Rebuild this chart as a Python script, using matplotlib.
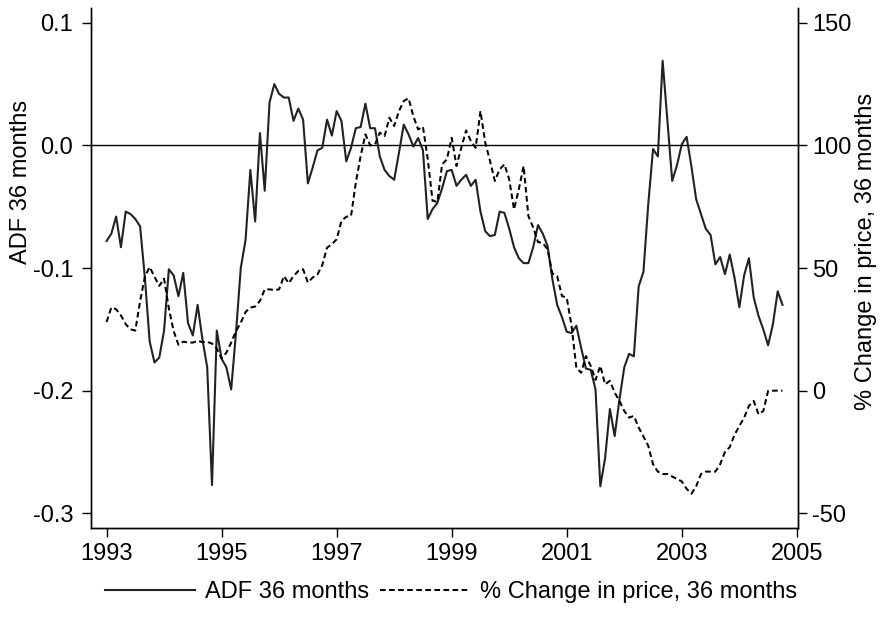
import numpy as np
import matplotlib
matplotlib.use("Agg")
import matplotlib.pyplot as plt

plt.rcParams['font.family'] = ['Liberation Sans', 'DejaVu Sans']

# monthly observations, 1993m1 - 2004m10
start_year = 1993
adf = [
    -0.078, -0.072, -0.058, -0.083, -0.054, -0.056, -0.060, -0.066, -0.108, -0.160,
    -0.177, -0.173, -0.151, -0.101, -0.106, -0.123, -0.104, -0.145, -0.155, -0.130,
    -0.158, -0.181, -0.277, -0.151, -0.174, -0.181, -0.199, -0.153, -0.100, -0.077,
    -0.020, -0.062, 0.010, -0.037, 0.035, 0.050, 0.042, 0.039, 0.039, 0.020,
    0.030, 0.021, -0.031, -0.018, -0.004, -0.002, 0.021, 0.008, 0.028, 0.020,
    -0.013, -0.002, 0.014, 0.015, 0.034, 0.014, 0.014, -0.009, -0.020, -0.025,
    -0.028, -0.006, 0.017, 0.009, -0.001, 0.006, -0.004, -0.060, -0.052, -0.047,
    -0.035, -0.021, -0.020, -0.033, -0.028, -0.024, -0.033, -0.028, -0.054, -0.070,
    -0.074, -0.073, -0.054, -0.055, -0.068, -0.083, -0.092, -0.096, -0.096, -0.083,
    -0.065, -0.072, -0.082, -0.109, -0.130, -0.140, -0.152, -0.153, -0.147, -0.165,
    -0.182, -0.183, -0.199, -0.278, -0.255, -0.215, -0.237, -0.207, -0.181, -0.170,
    -0.172, -0.115, -0.103, -0.048, -0.003, -0.009, 0.069, 0.020, -0.029, -0.016,
    0.001, 0.007, -0.017, -0.044, -0.056, -0.068, -0.073, -0.097, -0.091, -0.105,
    -0.089, -0.108, -0.132, -0.106, -0.092, -0.124, -0.139, -0.150, -0.163, -0.146,
    -0.119, -0.130,
]
pct_change = [
    28.0, 33.9, 33.2, 30.7, 27.1, 25.0, 24.5, 36.5, 46.5, 50.4,
    46.4, 42.7, 45.7, 33.5, 24.3, 18.7, 20.0, 19.6, 19.6, 20.3,
    19.8, 19.9, 19.2, 17.2, 13.1, 15.5, 19.6, 24.3, 27.7, 32.1,
    33.9, 34.3, 36.6, 41.3, 41.3, 41.0, 41.3, 46.7, 43.8, 46.7,
    48.8, 49.5, 44.1, 46.1, 47.4, 51.2, 58.3, 59.7, 61.7, 69.2,
    70.9, 71.2, 84.8, 95.6, 104.5, 100.0, 100.4, 105.2, 103.8, 111.3,
    107.9, 114.0, 118.1, 119.2, 111.9, 106.5, 107.6, 94.5, 77.5, 76.9,
    92.3, 94.3, 103.1, 91.6, 99.0, 106.1, 101.8, 99.0, 114.0, 101.1,
    93.6, 85.5, 90.2, 92.3, 86.1, 73.9, 82.1, 91.6, 71.2, 66.5,
    60.6, 60.2, 57.6, 47.8, 46.7, 38.6, 37.9, 26.4, 9.4, 7.3,
    14.1, 10.1, 4.4, 10.1, 2.6, 4.0, -0.8, -4.2, -8.3, -11.0,
    -10.3, -15.0, -18.7, -22.5, -30.0, -33.0, -34.0, -34.0, -35.0, -36.0,
    -37.0, -40.0, -42.0, -39.0, -34.0, -33.0, -33.0, -33.0, -30.0, -25.0,
    -23.0, -18.0, -14.4, -11.0, -6.2, -4.2, -9.6, -8.3, -0.1, 0.0,
    0.0, 0.0,
]
year_ticks = [1993, 1995, 1997, 1999, 2001, 2003, 2005]
adf_ticks = [0.1, 0.0, -0.1, -0.2, -0.3]
adf_labels = ['0.1', '0.0', '-0.1', '-0.2', '-0.3']
pct_ticks = [150, 100, 50, 0, -50]
pct_labels = ['150', '100', '50', '0', '-50']

t = start_year + np.arange(len(adf)) / 12.0

fig = plt.figure(figsize=(8.81, 6.18), dpi=100)
ax = fig.add_axes([0.1033, 0.1456, 0.8025, 0.8414])
ax2 = ax.twinx()

fs = 17
ax.axhline(0, color='black', lw=1.0, zorder=1)
l1, = ax.plot(t, adf, color='#222222', lw=1.5, label='ADF 36 months')
l2, = ax2.plot(t, pct_change, color='black', lw=1.45, dashes=(2.8, 1.7),
               label='% Change in price, 36 months')

ax.set_xlim(1992.73, 2005.02)
ax.set_ylim(-0.312, 0.112)
ax2.set_ylim(100 - 0.312 * 500, 100 + 0.112 * 500)

ax.set_xticks(year_ticks)
ax.set_xticklabels([str(y) for y in year_ticks], fontsize=fs)
ax.set_yticks(adf_ticks)
ax.set_yticklabels(adf_labels, fontsize=fs)
ax2.set_yticks(pct_ticks)
ax2.set_yticklabels(pct_labels, fontsize=fs)

for a in (ax, ax2):
    a.spines['top'].set_visible(False)
    a.tick_params(direction='out', length=6.2, width=1.0, pad=4)
    for s in a.spines.values():
        s.set_linewidth(1.0)
ax.tick_params(axis='y', pad=6.5)
ax.tick_params(axis='x', pad=4.5)

ax.set_ylabel('ADF 36 months', fontsize=fs)
ax.yaxis.set_label_coords(-0.0835, 0.665)
ax2.set_ylabel('% Change in price, 36 months', fontsize=fs)
ax2.yaxis.set_label_coords(1.0806, 0.531)

fig.legend(handles=[l1, l2], loc='center', bbox_to_anchor=(0.512, 0.042), ncol=2,
           frameon=False, fontsize=fs, handlelength=3.8, columnspacing=0.45,
           handletextpad=0.42, borderpad=0, borderaxespad=0)

fig.savefig('out.png', dpi=100, facecolor='white')
